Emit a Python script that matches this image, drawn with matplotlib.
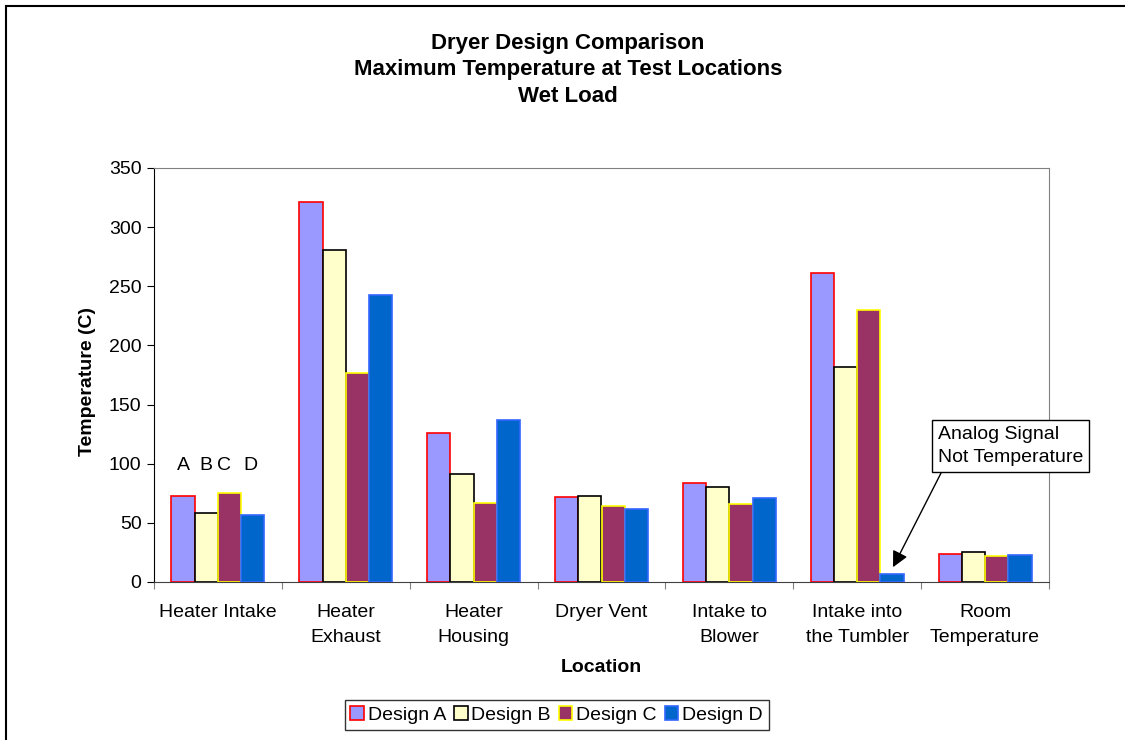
import matplotlib
matplotlib.use("Agg")
import matplotlib.pyplot as plt
import numpy as np
from matplotlib.patches import Rectangle, Patch

plt.rcParams['font.family'] = ['Liberation Sans', 'DejaVu Sans']

categories = ["Heater Intake", "Heater\nExhaust", "Heater\nHousing", "Dryer Vent",
              "Intake to\nBlower", "Intake into\nthe Tumbler", "Room\nTemperature"]
series_names = ["Design A", "Design B", "Design C", "Design D"]
design_a = [73, 321, 126, 72, 84, 261, 24]
design_b = [58, 281, 91, 73, 80, 182, 25]
design_c = [75, 177, 67, 64, 66, 230, 22]
design_d = [57, 243, 137, 62, 71, 7, 23]
yticks = [0, 50, 100, 150, 200, 250, 300, 350]

values = [design_a, design_b, design_c, design_d]
faces = ["#9999FF", "#FFFFCC", "#993366", "#0066CC"]
edges = ["#FF0000", "#000000", "#FFFF00", "#3366FF"]

FS = 14
W, H = 1125, 740
fig = plt.figure(figsize=(W/100, H/100), dpi=100)
ax = fig.add_axes([154/W, 1-582/H, (1049-154)/W, (582-168)/H])

x = np.arange(len(categories))
bw = 0.182
for i, (vals, fc, ec) in enumerate(zip(values, faces, edges)):
    ax.bar(x + (i-1.5)*bw, vals, width=bw, color=fc, edgecolor=ec, linewidth=1.2,
           label=series_names[i], zorder=3)

ax.set_xlim(-0.5, len(categories)-0.5)
ax.set_ylim(0, 350)
ax.set_yticks(yticks)
ax.tick_params(axis='y', direction='out', length=5, labelsize=FS, pad=4)
ax.set_xticks(np.arange(len(categories)+1) - 0.5)
ax.set_xticklabels([])
ax.tick_params(axis='x', which='major', direction='out', length=5, color='#808080')
ax.set_xticks(x, minor=True)
ax.set_xticklabels(categories, minor=True, fontsize=FS, linespacing=1.6)
ax.tick_params(axis='x', which='minor', length=0, pad=16)

for s in ['top', 'right']:
    ax.spines[s].set_color('#808080')
ax.spines['left'].set_color('black')
ax.spines['bottom'].set_color('#404040')

fig.text((154+1049)/2/W, 1-668/H, "Location", ha='center', va='center',
         fontsize=FS, fontweight='bold')
fig.text(87/W, 1-382/H, "Temperature (C)", ha='center', va='center',
         rotation=90, fontsize=FS, fontweight='bold')

# letters above first group
for i, lab in enumerate(["A", "B", "C", "D"]):
    dx = [0, 0, -0.045, -0.02][i]
    ax.text(x[0] + (i-1.5)*bw + dx, 91, lab, ha='center', va='bottom', fontsize=FS)

# annotation
ax.annotate("", xy=(5.28, 12.5), xytext=(5.655, 92), xycoords='data', textcoords='data',
            arrowprops=dict(arrowstyle='-|>', mutation_scale=24, color='black', lw=1,
                            shrinkA=0, shrinkB=0), annotation_clip=False, zorder=5)
ax.text(5.63, 132, "Analog Signal\nNot Temperature", ha='left', va='top', fontsize=FS,
        linespacing=1.45,
        bbox=dict(boxstyle='square,pad=0.3', fc='white', ec='black', lw=1),
        clip_on=False, zorder=6)

# title
for yy, t in [(44, "Dryer Design Comparison"),
              (70, "Maximum Temperature at Test Locations"),
              (96, "Wet Load")]:
    fig.text(0.505, 1-yy/H, t, ha='center', va='center', fontsize=16, fontweight='bold')

# legend
handles = [Patch(facecolor=fc, edgecolor=ec, linewidth=1.2) for fc, ec in zip(faces, edges)]
leg = fig.legend(handles, series_names, loc='center', bbox_to_anchor=(556.5/W, 1-715/H),
                 ncol=4, fontsize=FS, frameon=True, fancybox=False, edgecolor='black',
                 handlelength=0.7, handleheight=0.7, handletextpad=0.2, columnspacing=0.4,
                 borderpad=0.3, borderaxespad=0)
leg.get_frame().set_linewidth(1)

# outer frame
fig.patches.append(Rectangle((6/W, -0.1), 1.2, 1-6/H+0.1, transform=fig.transFigure,
                             fill=False, edgecolor='black', lw=1.5))

fig.savefig("out.png", dpi=100)
